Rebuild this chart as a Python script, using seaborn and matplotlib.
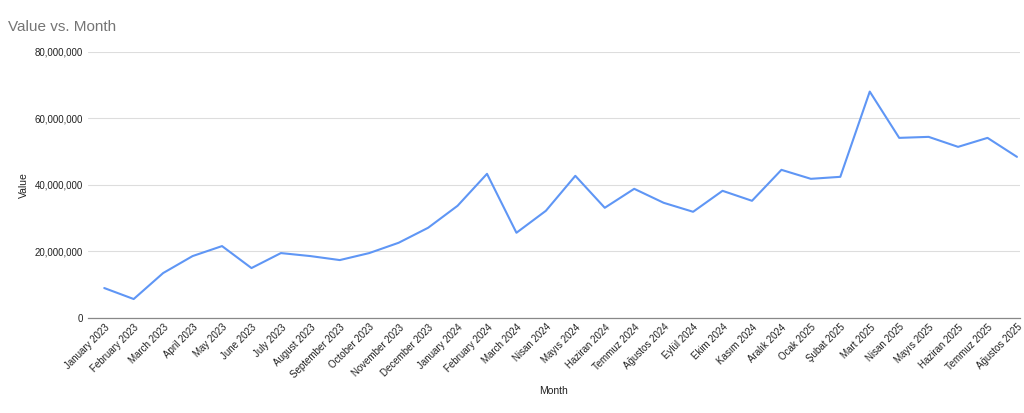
import matplotlib
matplotlib.use("Agg")
import matplotlib.pyplot as plt
import seaborn as sns
import pandas as pd
from matplotlib.ticker import FuncFormatter

months = ["January 2023","February 2023","March 2023","April 2023","May 2023","June 2023",
          "July 2023","August 2023","September 2023","October 2023","November 2023","December 2023",
          "January 2024","February 2024","March 2024","Nisan 2024","Mayıs 2024","Haziran 2024",
          "Temmuz 2024","Ağustos 2024","Eylül 2024","Ekim 2024","Kasım 2024","Aralık 2024",
          "Ocak 2025","Şubat 2025","Mart 2025","Nisan 2025","Mayıs 2025","Haziran 2025",
          "Temmuz 2025","Ağustos 2025"]
values = [9.0e6,5.7e6,13.5e6,18.6e6,21.6e6,15.0e6,19.5e6,18.6e6,17.4e6,19.5e6,22.6e6,27.1e6,
          33.7e6,43.3e6,25.6e6,32.2e6,42.7e6,33.1e6,38.8e6,34.6e6,31.9e6,38.2e6,35.2e6,44.5e6,
          41.8e6,42.4e6,68.0e6,54.1e6,54.4e6,51.4e6,54.1e6,48.4e6]

df = pd.DataFrame({"Month": range(len(months)), "Value": values})

sns.set_theme(style="white")
plt.rcParams['font.family'] = ['Arial', 'Liberation Sans', 'DejaVu Sans']
fig = plt.figure(figsize=(10.24, 4.13), dpi=100)
ax = fig.add_axes([0.086, 0.23, 0.91, 0.645])
sns.lineplot(data=df, x="Month", y="Value", ax=ax, color="#5f96f5", linewidth=1.5)
ax.set_ylim(0, 80e6)
ax.set_yticks([0, 20e6, 40e6, 60e6, 80e6])
ax.yaxis.set_major_formatter(FuncFormatter(lambda v, p: f"{int(v):,}"))
ax.set_xlim(-0.55, len(months) - 0.9)
ax.set_xticks(range(len(months)))
ax.set_xticklabels(months, rotation=45, ha="right", rotation_mode="anchor", fontsize=7, color="#222222")
ax.tick_params(axis="y", labelsize=7, colors="#222222", length=0)
ax.tick_params(axis="x", length=0, pad=3)
ax.grid(axis="y", color="#dddddd", linewidth=0.8)
for s in ["top", "right", "left"]:
    ax.spines[s].set_visible(False)
ax.spines["bottom"].set_color("#888888")
ax.spines["bottom"].set_linewidth(0.9)
ax.set_xlabel("Month", fontsize=7.5, color="#222222")
ax.set_ylabel("Value", fontsize=7.5, color="#222222")
fig.text(0.008, 0.925, "Value vs. Month", fontsize=11, color="#757575")
fig.savefig("out.png", dpi=100)
